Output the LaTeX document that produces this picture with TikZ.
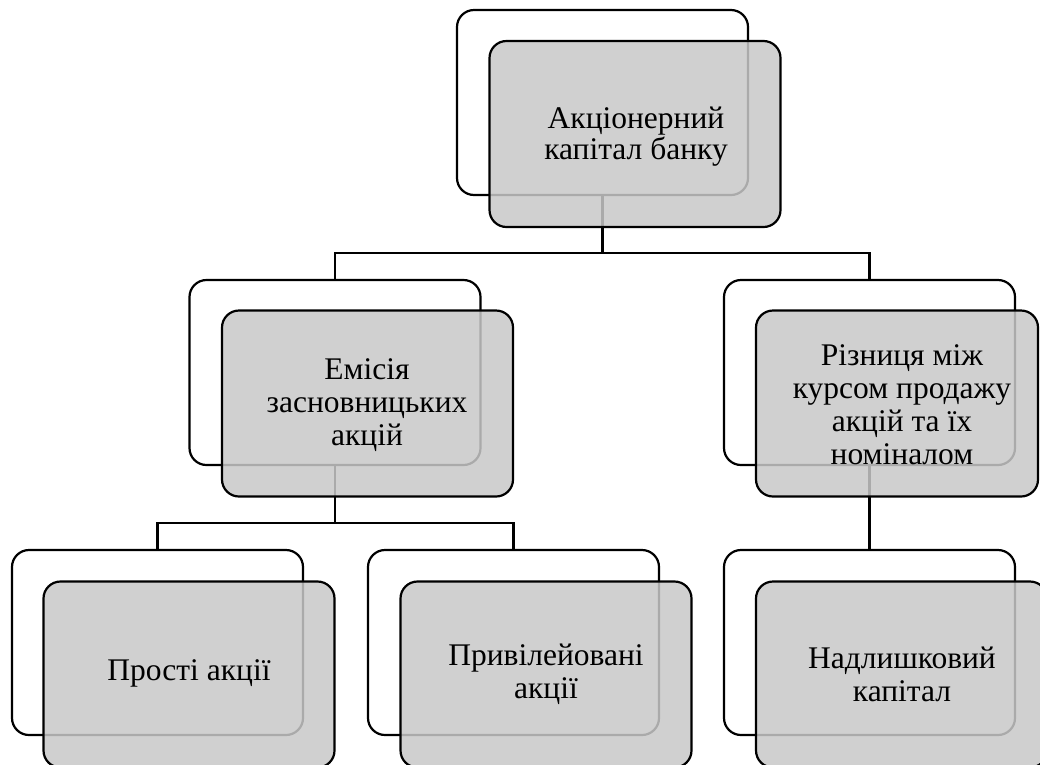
\documentclass[tikz,border=0pt]{standalone}
\usepackage{fontspec}
\setmainfont{Liberation Serif}
\definecolor{boxgray}{RGB}{200,200,200}
\begin{document}
\begin{tikzpicture}[x=1pt,y=-1pt,
  backbox/.style={draw=black, line width=2.2pt, fill=white, rounded corners=17pt,
    minimum width=291pt, minimum height=185pt, inner sep=0pt, outer sep=0pt},
  frontbox/.style={draw=black, line width=2.2pt, fill=boxgray, fill opacity=0.85,
    draw opacity=1, rounded corners=17pt, minimum width=291pt, minimum height=186pt,
    inner sep=0pt, outer sep=0pt},
  lbl/.style={align=center, font=\fontsize{31.5}{33}\selectfont, inner sep=0pt},
  conn/.style={line width=2.2pt}]
\useasboundingbox (0,0) rectangle (1040,764);
\clip (0,0) rectangle (1040,764);
% back boxes
\node[backbox] (topB) at (602.5,102.5) {};
\node[backbox] (lB) at (335,372.5) {};
\node[backbox] (rB) at (869.5,372.5) {};
\node[backbox] (llB) at (157.5,642.5) {};
\node[backbox] (lmB) at (513.5,642.5) {};
\node[backbox] (rrB) at (869.5,642.5) {};
% connectors
\coordinate (h1) at (0,253);
\coordinate (h2) at (0,523);
\draw[conn] (topB.south) -- (topB.south |- h1);
\draw[conn] (lB.north) -- (lB.north |- h1) -- (rB.north |- h1) -- (rB.north);
\draw[conn] (lB.south) -- (lB.south |- h2);
\draw[conn] (llB.north) -- (llB.north |- h2) -- (lmB.north |- h2) -- (lmB.north);
\draw[conn] (rB.south) -- (rrB.north);
% front boxes
\node[frontbox] (topF) at (635,134) {};
\node[frontbox] (lF) at (367.5,403.5) {};
\node[frontbox, minimum width=282pt] (rF) at (897,403.5) {};
\node[frontbox] (llF) at (189,674.5) {};
\node[frontbox] (lmF) at (546,674.5) {};
\node[frontbox] (rrF) at (901.5,674.5) {};
% texts
\node[lbl, font=\fontsize{31.5}{31}\selectfont] (t1) at (636,137) {Акціонерний\\капітал банку};
\node[lbl] (t2) at (367,405) {Емісія\\засновницьких\\акцій};
\node[lbl] (t3) at (902,405) {Різниця між\\курсом продажу\\акцій та їх\\номіналом};
\node[lbl] (t4) at (189,673) {Прості акції};
\node[lbl] (t5) at (546,674) {Привілейовані\\акції};
\node[lbl] (t6) at (902,674) {Надлишковий\\капітал};
\end{tikzpicture}
\end{document}
